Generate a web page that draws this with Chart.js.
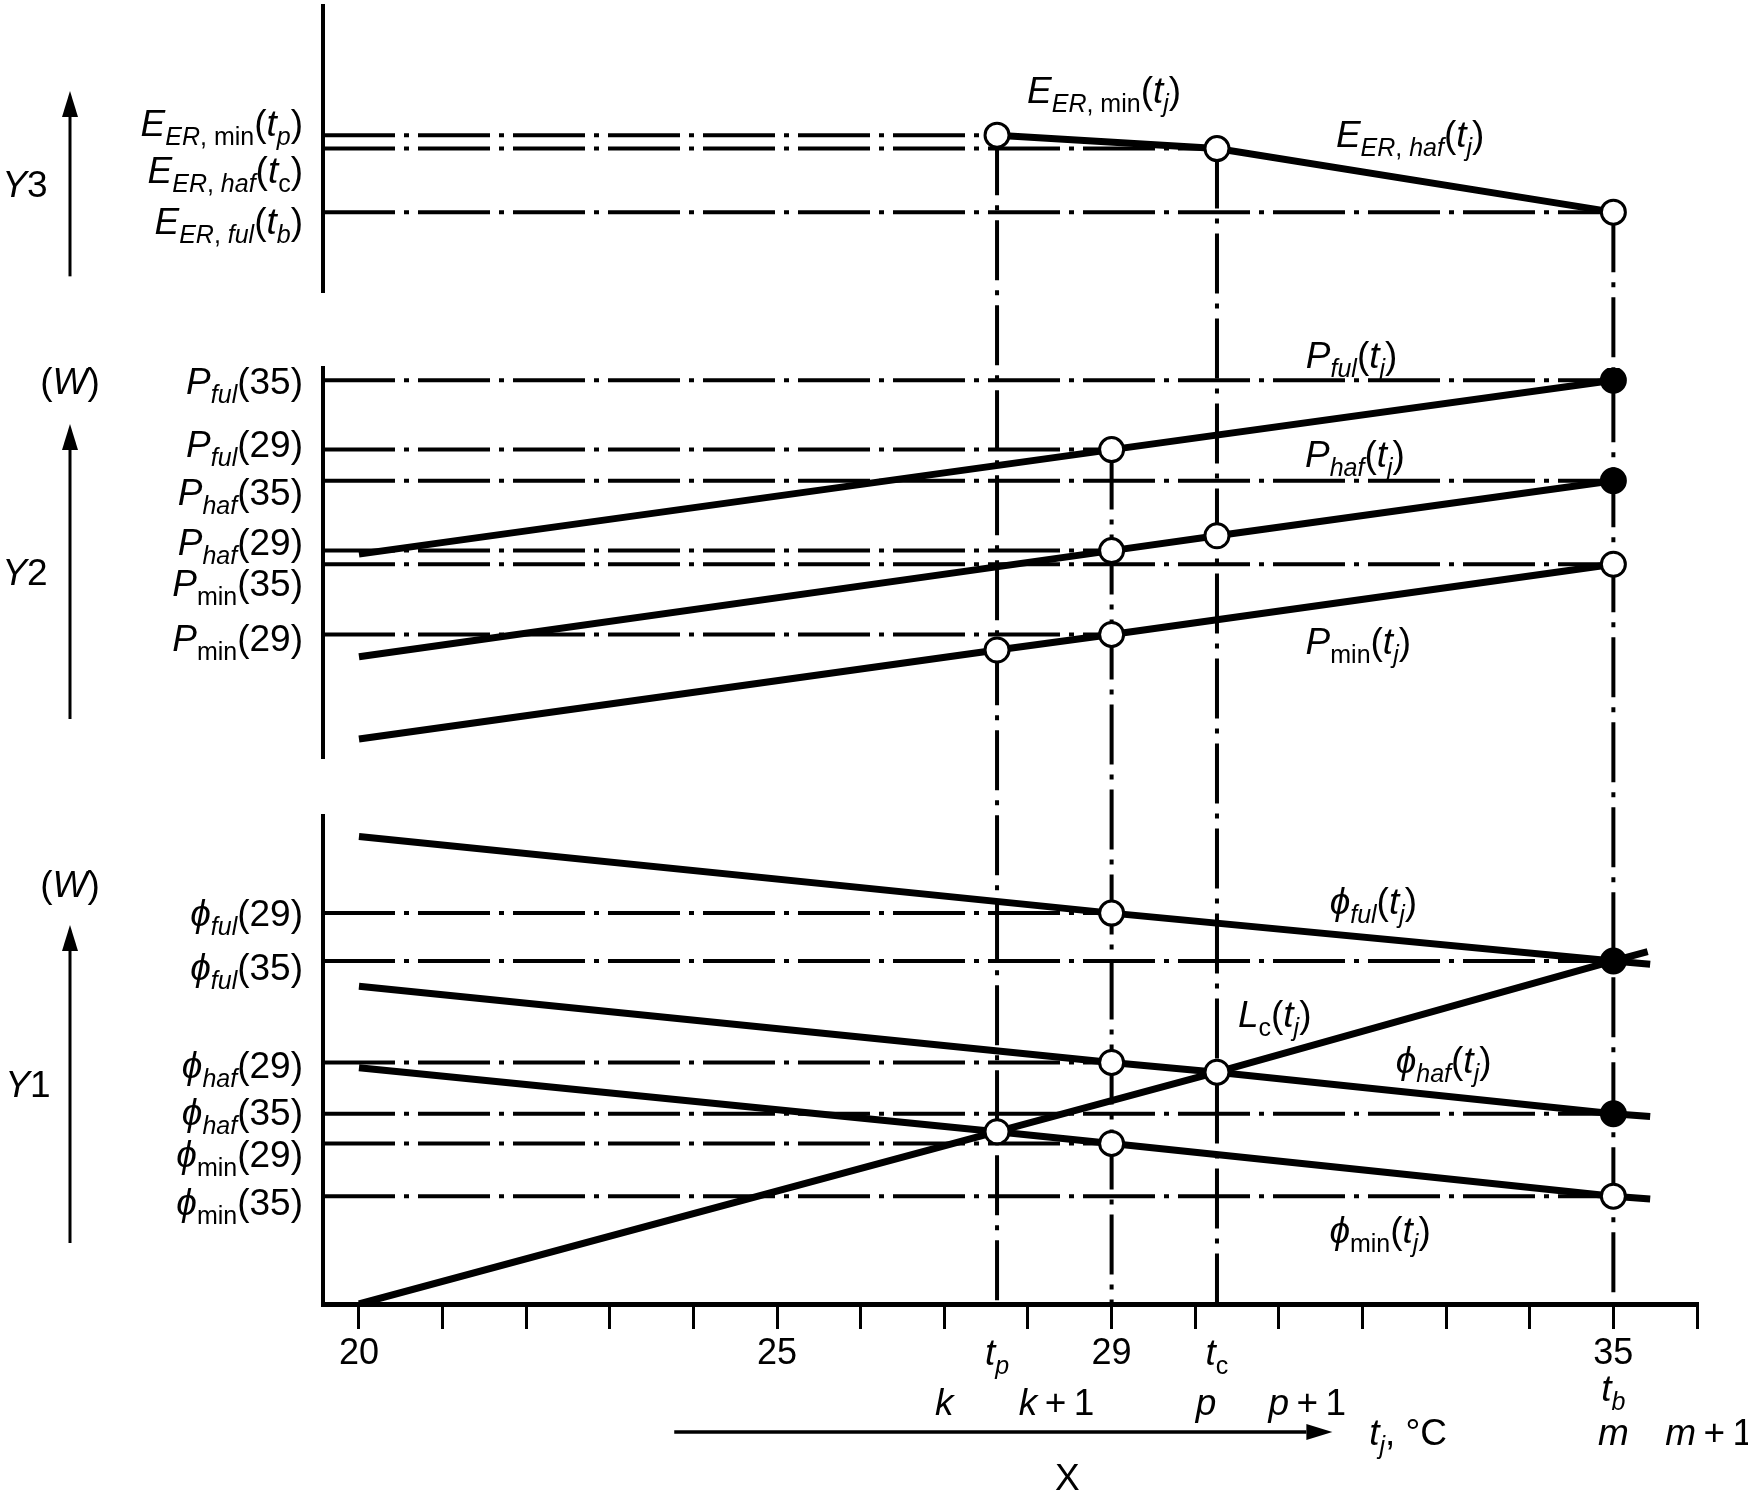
<!DOCTYPE html>
<html>
<head>
<meta charset="utf-8">
<script src="https://cdn.jsdelivr.net/npm/chart.js@4.4.1/dist/chart.umd.min.js"></script>
<style>
  html, body { margin: 0; padding: 0; background: #fff; }
  #wrap { width: 1748px; height: 1496px; position: relative; }
</style>
</head>
<body>
<div id="wrap"><canvas id="chart"></canvas></div>
<script>
// outdoor temperature bins t_j (°C)
const X_MIN = 19.57, X_MAX = 36;
const X_TICKS = [20, 21, 22, 23, 24, 25, 26, 27, 28, 29, 30, 31, 32, 33, 34, 35, 36];
const X_LABELED = [20, 25, 29, 35];
const T_P = 27.63, T_C = 30.26, T_B = 35;

// Y3 - EER curve (relative units, 0..10)
const EER_X  = [27.63, 30.26, 35];
const EER_Y  = [5.49, 5.02, 2.80];
const EER_MK = ['o', 'o', 'o'];

// Y2 - power input P (relative units)
const PFUL_X  = [20, 29, 35];
const PFUL_Y  = [5.23, 7.91, 9.69];
const PFUL_MK = ['', 'o', 'f'];

const PHAF_X  = [20, 29, 30.26, 35];
const PHAF_Y  = [2.60, 5.32, 5.70, 7.11];
const PHAF_MK = ['', 'o', 'o', 'f'];

const PMIN_X  = [20, 27.63, 29, 35];
const PMIN_Y  = [0.49, 2.77, 3.17, 4.97];
const PMIN_MK = ['', 'o', 'o', 'o'];

// Y1 - capacity phi and load line Lc (relative units)
const QFUL_X  = [20, 29, 35, 35.44];
const QFUL_Y  = [9.58, 8.01, 7.03, 6.96];
const QFUL_MK = ['', 'o', 'f', ''];

const QHAF_X  = [20, 29, 30.26, 35, 35.44];
const QHAF_Y  = [6.51, 4.95, 4.75, 3.90, 3.84];
const QHAF_MK = ['', 'o', '', 'f', ''];

const QMIN_X  = [20, 27.63, 29, 35, 35.44];
const QMIN_Y  = [4.84, 3.53, 3.29, 2.21, 2.15];
const QMIN_MK = ['', '', 'o', 'o', ''];

const LC_X  = [20, 27.63, 30.26, 35, 35.41];
const LC_Y  = [0, 3.53, 4.75, 7.03, 7.22];
const LC_MK = ['', 'o', 'o', '', ''];

const FONT = '"Liberation Sans", Arial, "DejaVu Sans", sans-serif';
const MAIN = 37, SUB = 25, SUB_DROP = 9;
const DASH_H = [72, 9, 5, 9];
const DASH_V = [60, 10, 5, 10];

const I = t => [t, 'i'], R = t => [t, 'r'], IS = t => [t, 'is'], RS = t => [t, 'rs'];
const TJ = [R('('), I('t'), IS('j'), R(')')];
const PLUS1 = R('\u2009+\u20091');

const curves = [
    { axis: 'y3', x: EER_X, y: EER_Y, mk: EER_MK, allGuides: true },
    { axis: 'y2', x: PFUL_X, y: PFUL_Y, mk: PFUL_MK },
    { axis: 'y2', x: PHAF_X, y: PHAF_Y, mk: PHAF_MK },
    { axis: 'y2', x: PMIN_X, y: PMIN_Y, mk: PMIN_MK },
    { axis: 'y1', x: QFUL_X, y: QFUL_Y, mk: QFUL_MK },
    { axis: 'y1', x: QHAF_X, y: QHAF_Y, mk: QHAF_MK },
    { axis: 'y1', x: QMIN_X, y: QMIN_Y, mk: QMIN_MK },
    { axis: 'y1', x: LC_X, y: LC_Y, mk: LC_MK }
];

// labels on the left of the panels: [axis, value, dy, segments]
const LEFT_LABELS = [
    ['y3', EER_Y[0], -12, [I('E'), IS('ER'), RS(', min'), R('('), I('t'), IS('p'), R(')')]],
    ['y3', EER_Y[1], 21, [I('E'), IS('ER'), RS(', '), IS('haf'), R('('), I('t'), RS('c'), R(')')]],
    ['y3', EER_Y[2], 9, [I('E'), IS('ER'), RS(', '), IS('ful'), R('('), I('t'), IS('b'), R(')')]],
    ['y2', PFUL_Y[2], 0, [I('P'), IS('ful'), R('(35)')]],
    ['y2', PFUL_Y[1], -6, [I('P'), IS('ful'), R('(29)')]],
    ['y2', PHAF_Y[3], 11, [I('P'), IS('haf'), R('(35)')]],
    ['y2', PHAF_Y[1], -9, [I('P'), IS('haf'), R('(29)')]],
    ['y2', PMIN_Y[3], 18, [I('P'), RS('min'), R('(35)')]],
    ['y2', PMIN_Y[2], 3, [I('P'), RS('min'), R('(29)')]],
    ['y1', QFUL_Y[1], 0, [I('ϕ'), IS('ful'), R('(29)')]],
    ['y1', QFUL_Y[2], 6, [I('ϕ'), IS('ful'), R('(35)')]],
    ['y1', QHAF_Y[1], 2, [I('ϕ'), IS('haf'), R('(29)')]],
    ['y1', QHAF_Y[3], -2, [I('ϕ'), IS('haf'), R('(35)')]],
    ['y1', QMIN_Y[2], 10, [I('ϕ'), RS('min'), R('(29)')]],
    ['y1', QMIN_Y[3], 6, [I('ϕ'), RS('min'), R('(35)')]]
];

// curve names: [x, axis, y, segments]
const CURVE_LABELS = [
    [28.91, 'y3', 7.08, [I('E'), IS('ER'), RS(', min'), ...TJ]],
    [32.57, 'y3', 5.53, [I('E'), IS('ER'), RS(', '), IS('haf'), ...TJ]],
    [31.87, 'y2', 10.34, [I('P'), IS('ful'), ...TJ]],
    [31.91, 'y2', 7.80, [I('P'), IS('haf'), ...TJ]],
    [31.95, 'y2', 3.00, [I('P'), RS('min'), ...TJ]],
    [32.13, 'y1', 8.26, [I('ϕ'), IS('ful'), ...TJ]],
    [30.95, 'y1', 5.94, [I('L'), RS('c'), ...TJ]],
    [32.97, 'y1', 5.00, [I('ϕ'), IS('haf'), ...TJ]],
    [32.21, 'y1', 1.53, [I('ϕ'), RS('min'), ...TJ]]
];

// labels under the x axis: [x, dy below axis, segments, align]
const BOTTOM_LABELS = [
    [T_P, 48, [I('t'), IS('p')], 'center'],
    [T_C, 48, [I('t'), RS('c')], 'center'],
    [T_B, 84, [I('t'), IS('b')], 'center'],
    [27, 98, [I('k')], 'first'],
    [28, 98, [I('k'), PLUS1], 'first'],
    [30.13, 98, [I('p')], 'first'],
    [31, 98, [I('p'), PLUS1], 'first'],
    [35, 128, [I('m')], 'first'],
    [35.62, 128, [I('m'), PLUS1], 'left'],
    [32.08, 128, [I('t'), IS('j'), R(', °C')], 'left'],
    [28.47, 173, [R('X')], 'center']
];

// vertical dash-dot guides: [x, axis of top end, value of top end]
const V_GUIDES = [
    [T_P, 'y3', EER_Y[0]],
    [T_C, 'y3', EER_Y[1]],
    [T_B, 'y3', EER_Y[2]],
    [29, 'y2', PFUL_Y[1]]
];

function segFont(st) {
    const it = st.includes('i') ? 'italic ' : '';
    const sz = st.includes('s') ? SUB : MAIN;
    return it + sz + 'px ' + FONT;
}

function drawRich(ctx, segs, x, cy, align) {
    let w = 0;
    const widths = segs.map(([t, st]) => {
        ctx.font = segFont(st);
        const m = ctx.measureText(t).width;
        w += m;
        return m;
    });
    let sx = x;
    if (align === 'right') sx = x - w;
    else if (align === 'center') sx = x - w / 2;
    else if (align === 'first') sx = x - widths[0] / 2;
    const base = cy + MAIN * 0.36;
    segs.forEach(([t, st], i) => {
        ctx.font = segFont(st);
        ctx.fillText(t, sx, base + (st.includes('s') ? SUB_DROP : 0));
        sx += widths[i];
    });
}

function arrow(ctx, x0, y0, x1, y1) {
    const ang = Math.atan2(y1 - y0, x1 - x0);
    const len = 26, hw = 8;
    ctx.beginPath();
    ctx.moveTo(x0, y0);
    ctx.lineTo(x1 - len * Math.cos(ang), y1 - len * Math.sin(ang));
    ctx.stroke();
    ctx.beginPath();
    ctx.moveTo(x1, y1);
    ctx.lineTo(x1 - len * Math.cos(ang) - hw * Math.sin(ang), y1 - len * Math.sin(ang) + hw * Math.cos(ang));
    ctx.lineTo(x1 - len * Math.cos(ang) + hw * Math.sin(ang), y1 - len * Math.sin(ang) - hw * Math.cos(ang));
    ctx.closePath();
    ctx.fill();
}

const annotate = {
    id: 'annotate',
    beforeDatasetsDraw(chart) {
        const ctx = chart.ctx, xs = chart.scales.x;
        ctx.save();
        ctx.strokeStyle = '#000';
        ctx.lineWidth = 4;
        ctx.setLineDash(DASH_V);
        V_GUIDES.forEach(([x, axis, v]) => {
            const px = xs.getPixelForValue(x);
            ctx.beginPath();
            ctx.moveTo(px, chart.scales[axis].getPixelForValue(v));
            ctx.lineTo(px, chart.chartArea.bottom);
            ctx.stroke();
        });
        ctx.restore();
    },
    afterDraw(chart) {
        const ctx = chart.ctx, xs = chart.scales.x, area = chart.chartArea;
        const s = chart.scales;
        ctx.save();
        ctx.fillStyle = '#000';
        ctx.strokeStyle = '#000';
        ctx.textBaseline = 'alphabetic';
        ctx.textAlign = 'left';

        LEFT_LABELS.forEach(([axis, v, dy, segs]) => {
            drawRich(ctx, segs, area.left - 20, s[axis].getPixelForValue(v) + dy, 'right');
        });
        CURVE_LABELS.forEach(([x, axis, v, segs]) => {
            drawRich(ctx, segs, xs.getPixelForValue(x), s[axis].getPixelForValue(v), 'center');
        });
        BOTTOM_LABELS.forEach(([x, dy, segs, align]) => {
            drawRich(ctx, segs, xs.getPixelForValue(x), area.bottom + dy, align);
        });

        // panel names and arrows on the far left
        const ax = 70;
        ctx.lineWidth = 3;
        arrow(ctx, ax, s.y3.bottom - 16, ax, s.y3.top + 85);
        arrow(ctx, ax, s.y2.bottom - 39, ax, s.y2.top + 56);
        arrow(ctx, ax, s.y1.bottom - 61, ax, s.y1.top + 109);
        drawRich(ctx, [I('Y'), R('3')], 25, s.y3.top + 178, 'center');
        drawRich(ctx, [I('Y'), R('2')], 25, s.y2.top + 204, 'center');
        drawRich(ctx, [I('Y'), R('1')], 28, s.y1.top + 268, 'center');
        drawRich(ctx, [R('('), I('W'), R(')')], ax, s.y2.top + 13, 'center');
        drawRich(ctx, [R('('), I('W'), R(')')], ax, s.y1.top + 68, 'center');

        // t_j direction arrow under the axis
        ctx.lineWidth = 3.5;
        arrow(ctx, xs.getPixelForValue(23.77), area.bottom + 128, xs.getPixelForValue(31.64), area.bottom + 128);
        ctx.restore();
    }
};

const datasets = [];
curves.forEach(c => {
    datasets.push({
        data: c.x.map((x, i) => ({ x, y: c.y[i] })),
        yAxisID: c.axis,
        borderColor: '#000',
        borderWidth: 7,
        pointRadius: 0,
        order: 1
    });
    c.x.forEach((x, i) => {
        const isGuide = c.mk[i] && (c.allGuides || x === 29 || x === 35);
        if (!isGuide) return;
        datasets.push({
            data: [{ x: X_MIN, y: c.y[i] }, { x, y: c.y[i] }],
            yAxisID: c.axis,
            borderColor: '#000',
            borderWidth: 4,
            borderDash: DASH_H,
            pointRadius: 0,
            order: 2
        });
    });
});
['y3', 'y2', 'y1'].forEach(axis => {
    const pts = [], fills = [];
    curves.filter(c => c.axis === axis).forEach(c => {
        c.x.forEach((x, i) => {
            if (!c.mk[i]) return;
            pts.push({ x, y: c.y[i] });
            fills.push(c.mk[i] === 'f' ? '#000' : '#fff');
        });
    });
    datasets.push({
        data: pts,
        yAxisID: axis,
        showLine: false,
        pointRadius: 12,
        pointBorderWidth: 3,
        pointBorderColor: '#000',
        pointBackgroundColor: fills,
        order: 0
    });
});

function panelScale(weight) {
    return {
        type: 'linear', position: 'left', stack: 'panels', stackWeight: weight,
        min: 0, max: 10,
        grid: { display: false },
        ticks: { display: false },
        border: { display: true, color: '#000', width: 4 },
        afterFit: s => { s.width = 0; }
    };
}
function gapScale(weight) {
    return {
        type: 'linear', position: 'left', stack: 'panels', stackWeight: weight,
        min: 0, max: 1,
        grid: { display: false },
        ticks: { display: false },
        border: { display: false },
        afterFit: s => { s.width = 0; }
    };
}

new Chart(document.getElementById('chart'), {
    type: 'line',
    data: { datasets },
    options: {
        responsive: true,
        maintainAspectRatio: false,
        animation: false,
        devicePixelRatio: 1,
        events: [],
        layout: { autoPadding: false, padding: { top: 6, left: 323, right: 51, bottom: 0 } },
        plugins: { legend: { display: false }, tooltip: { enabled: false } },
        scales: {
            x: {
                type: 'linear', min: X_MIN, max: X_MAX,
                afterBuildTicks: s => { s.ticks = X_TICKS.map(v => ({ value: v })); },
                afterFit: s => { s.height = 192; },
                grid: { drawOnChartArea: false, drawTicks: true, tickLength: 25, lineWidth: 3, color: '#000' },
                border: { color: '#000', width: 5 },
                ticks: {
                    autoSkip: false, maxRotation: 0, padding: 3, color: '#000',
                    font: { family: FONT, size: 36 },
                    callback: v => X_LABELED.includes(v) ? String(v) : ''
                }
            },
            y1: panelScale(438),
            gapB: gapScale(52),
            y2: panelScale(350),
            gapA: gapScale(68),
            y3: panelScale(257)
        }
    },
    plugins: [annotate]
});
</script>
</body>
</html>
